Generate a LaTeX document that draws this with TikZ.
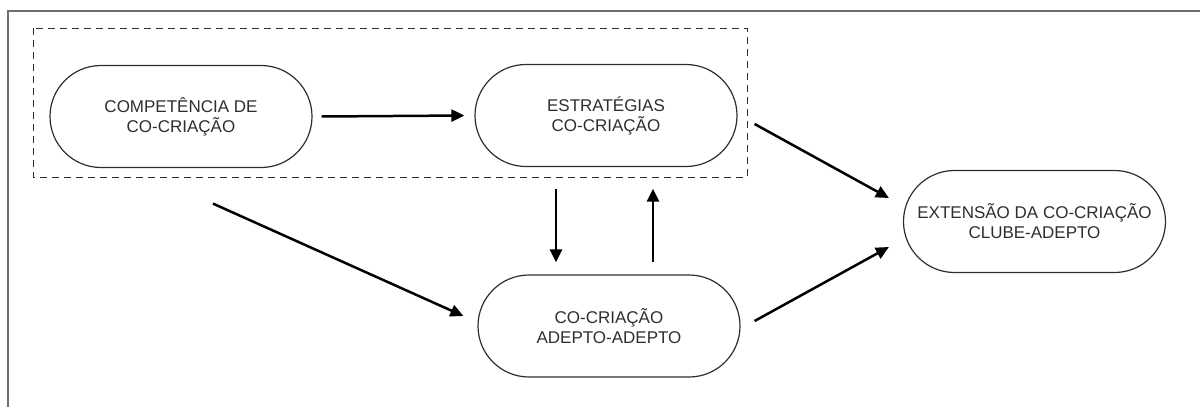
\documentclass[tikz,border=0pt]{standalone}
\usepackage{fontspec}
\setmainfont{Liberation Sans}
\usetikzlibrary{arrows.meta}

\definecolor{framegray}{HTML}{6E6E6E}
\definecolor{ink}{HTML}{2E2E2E}

\tikzset{
  stage/.style={draw=ink, line width=1.2pt, text=ink, align=center,
    minimum width=262pt, minimum height=102pt, rounded corners=51pt,
    inner sep=0pt, font=\fontsize{17pt}{20pt}\selectfont},
  flow/.style={line width=2.5pt, -{Triangle[length=13pt,width=12pt]}},
  groupbox/.style={draw=ink, line width=1pt, dash pattern=on 7pt off 5pt},
  frameline/.style={draw=framegray, line width=1.6pt}
}

\begin{document}
\begin{tikzpicture}[x=1pt, y=-1pt]
  \useasboundingbox (0,0) rectangle (1200,407);

  % open outer frame (top and left edges)
  \draw[frameline] (1200,11) -- (8,11) -- (8,407);

  % dashed group around the first two stages
  \draw[groupbox] (33,28) rectangle (747,177);

  % stages
  \node[stage] (comp) at (181,116.5) {COMPETÊNCIA DE\\CO-CRIAÇÃO};
  \node[stage] (estr) at (606,115.5) {ESTRATÉGIAS\\CO-CRIAÇÃO};
  \node[stage] (adep) at (609,326) {CO-CRIAÇÃO\\ADEPTO-ADEPTO};
  \node[stage] (ext)  at (1034.5,221.5) {EXTENSÃO DA CO-CRIAÇÃO\\CLUBE-ADEPTO};

  % connectors
  \draw[flow] ([xshift=9pt]comp.east) -- ([xshift=-10pt]estr.west);
  \draw[flow] ([xshift=-50pt,yshift=-21.5pt]estr.south) -- ([xshift=-53pt,yshift=12pt]adep.north);
  \draw[flow] ([xshift=44pt,yshift=12pt]adep.north) -- ([xshift=47pt,yshift=-21.5pt]estr.south);
  \draw[flow] ([xshift=32pt,yshift=-35.5pt]comp.south) -- ([xshift=-14pt,yshift=10pt]adep.west);
  \draw[flow] ([xshift=17pt,yshift=-8.5pt]estr.east) -- ([xshift=-14pt,yshift=23.5pt]ext.west);
  \draw[flow] ([xshift=14pt,yshift=5pt]adep.east) -- ([xshift=-14pt,yshift=-25.5pt]ext.west);
\end{tikzpicture}
\end{document}
